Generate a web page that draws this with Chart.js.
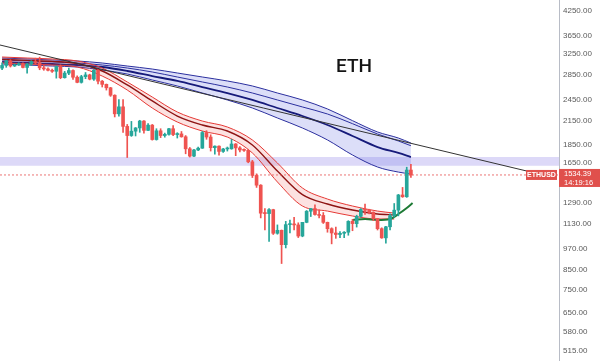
<!DOCTYPE html>
<html>
<head>
<meta charset="utf-8">
<script src="https://cdn.jsdelivr.net/npm/chart.js@4.4.0/dist/chart.umd.min.js"></script>
<style>
  html, body { margin: 0; padding: 0; background: #ffffff; }
  canvas { display: block; }
</style>
</head>
<body>
<canvas id="chart" width="600" height="361"></canvas>
<script>
// ETHUSD daily candles, 12 Apr 2022 .. 19 Jul 2022 (slot index 0..98)
const opens  = [2980,3030,3118,3020,3040,3062,2992,3057,3103,3077,2985,2965,2940,2922,3008,2808,2889,2936,2816,2728,
                2826,2857,2783,2940,2748,2694,2637,2518,2243,2343,2075,1960,2014,2055,2145,2024,2091,1912,2019,1960,
                1975,2045,1972,1980,1945,1805,1725,1792,1812,1997,1942,1818,1835,1776,1803,1805,1860,1815,1792,1788,
                1665,1530,1440,1210,1207,1237,1068,1088,995,1127,1128,1125,1050,1143,1225,1245,1200,1193,1143,1099,
                1070,1060,1068,1075,1150,1134,1187,1238,1232,1217,1170,1099,1038,1112,1192,1233,1355,1340,1582];
const highs  = [3080,3130,3140,3060,3080,3080,3070,3120,3170,3190,3030,2985,2960,3025,3040,2920,2980,2950,2840,2850,
                2900,2870,2955,2955,2760,2700,2645,2525,2450,2450,2100,2140,2060,2155,2150,2110,2100,2045,2045,1990,
                2050,2085,1995,2010,1960,1820,1800,1825,2010,2020,1970,1840,1840,1810,1825,1915,1865,1830,1805,1800,
                1680,1545,1445,1245,1245,1240,1125,1090,1150,1160,1180,1140,1140,1230,1245,1275,1235,1215,1145,1105,
                1110,1080,1080,1155,1165,1195,1245,1280,1240,1220,1170,1105,1115,1205,1285,1360,1420,1610,1640];
const lows   = [2950,2995,3000,3010,3030,2985,2890,3030,3055,2950,2940,2930,2900,2800,2790,2800,2860,2780,2720,2715,
                2790,2770,2760,2700,2650,2600,2500,2200,2210,2000,1710,1950,1955,2000,1990,2020,1905,1905,1935,1940,
                1965,1960,1930,1940,1750,1715,1720,1785,1810,1915,1780,1745,1735,1765,1780,1800,1730,1770,1775,1655,
                1510,1420,1175,1090,1015,1060,1062,885,975,1070,1090,1040,1045,1140,1185,1195,1175,1135,1075,1000,
                1035,1040,1040,1055,1085,1110,1180,1200,1205,1155,1090,1035,1005,1090,1180,1190,1335,1335,1510];
const closes = [3030,3118,3020,3040,3062,2992,3057,3103,3077,2985,2965,2940,2922,3008,2808,2889,2936,2816,2728,2826,
                2857,2783,2940,2748,2694,2637,2518,2243,2343,2075,1960,2014,2055,2145,2024,2091,1912,2019,1960,1975,
                2045,1972,1980,1945,1805,1725,1792,1812,1997,1942,1818,1835,1776,1803,1805,1860,1815,1792,1788,1665,
                1530,1440,1210,1207,1237,1068,1088,995,1127,1128,1125,1050,1143,1225,1245,1200,1193,1143,1099,1070,
                1060,1068,1075,1150,1134,1187,1238,1232,1217,1170,1099,1038,1112,1192,1233,1355,1340,1582,1534.39];

// Price-axis tick labels
const yTicks = [515,580,650,750,850,970,1130,1290,1650,1850,2150,2450,2850,3250,3650,4250];

// Red moving-average ribbon (upper edge, centre, lower edge)
const redIdx   = [0,6,12,18,24,30,36,42,48,54,60,66,72,78,84,90,94];
const redUpper = [3193,3173,3154,3115,2982,2734,2490,2269,2145,2067,1907,1653,1415,1321,1265,1226,1211];
const redMid   = [3146,3126,3107,3068,2927,2684,2430,2213,2093,2016,1849,1572,1358,1281,1234,1204,1197];
const redLower = [3076,3057,3038,3001,2837,2601,2326,2132,2016,1942,1759,1469,1265,1226,1189,1167,1167];

// Blue moving-average ribbon (four lines, top to bottom)
const blueIdx = [0,6,12,18,24,30,36,42,48,54,60,66,72,78,84,90,95,98];
const blue1 = [3173,3154,3134,3115,3076,3019,2963,2891,2820,2751,2667,2553,2445,2312,2150,2004,1930,1871];
const blue2 = [3134,3115,3096,3076,3038,2982,2909,2820,2734,2650,2553,2445,2341,2241,2110,1979,1895,1840];
const blue3 = [3096,3076,3057,3038,3001,2927,2837,2751,2650,2553,2445,2326,2213,2093,1955,1825,1759,1715];
const blue4 = [3057,3038,3019,3001,2945,2873,2768,2667,2553,2445,2326,2186,2054,1907,1737,1612,1562,1543];

// Short green average
const greenIdx = [84,87,90,93,95,97,98.4];
const green    = [1160,1167,1160,1167,1204,1250,1289];

// Descending trend line (two anchor points)
const trendIdx = [-0.5,125.8];
const trend    = [3440,1572];

// Resistance zone and last price
const zoneLow = 1625, zoneHigh = 1715;
const lastPrice = 1534.39;
const symbol = 'ETHUSD';
const countdown = '14:19:16';
const titleText = 'ETH';

const X_MIN = -0.5, X_MAX = 133.5;
const UP = '#26a69a', DOWN = '#ef5350';

const candleColors = opens.map((o, i) => closes[i] >= o ? UP : DOWN);
const pts = (xs, ys) => xs.map((x, i) => ({ x, y: ys[i] }));

const lineBase = {
  type: 'line', pointRadius: 0, pointHoverRadius: 0, pointBorderWidth: 0, fill: false,
  cubicInterpolationMode: 'monotone'
};

const datasets = [
  // 0,1 zone
  { ...lineBase, label: 'zoneLow', data: pts([X_MIN, X_MAX], [zoneLow, zoneLow]), borderWidth: 0, borderColor: 'rgba(0,0,0,0)', order: 20 },
  { ...lineBase, label: 'zoneHigh', data: pts([X_MIN, X_MAX], [zoneHigh, zoneHigh]), borderWidth: 0, borderColor: 'rgba(0,0,0,0)',
    fill: { target: 0 }, backgroundColor: 'rgba(160,150,235,0.36)', order: 19 },
  // 2..5 blue ribbon
  { ...lineBase, label: 'blue1', data: pts(blueIdx, blue1), borderColor: '#2b2f9e', borderWidth: 1, order: 12 },
  { ...lineBase, label: 'blue2', data: pts(blueIdx, blue2), borderColor: '#2b2f9e', borderWidth: 1, order: 11 },
  { ...lineBase, label: 'blue3', data: pts(blueIdx, blue3), borderColor: '#161a7a', borderWidth: 1.8, order: 10 },
  { ...lineBase, label: 'blue4', data: pts(blueIdx, blue4), borderColor: '#2b2f9e', borderWidth: 1,
    fill: { target: 2 }, backgroundColor: 'rgba(95,105,225,0.22)', order: 13 },
  // 6..8 red ribbon
  { ...lineBase, label: 'redUpper', data: pts(redIdx, redUpper), borderColor: '#e53935', borderWidth: 1, order: 8 },
  { ...lineBase, label: 'redMid', data: pts(redIdx, redMid), borderColor: '#8e1414', borderWidth: 1.4, order: 7 },
  { ...lineBase, label: 'redLower', data: pts(redIdx, redLower), borderColor: '#e53935', borderWidth: 1,
    fill: { target: 6 }, backgroundColor: 'rgba(239,83,80,0.17)', order: 9 },
  // 9 green average
  { ...lineBase, label: 'green', data: pts(greenIdx, green), borderColor: '#1d7a35', borderWidth: 2, order: 6 },
  // 10 trend line
  { ...lineBase, label: 'trend', data: pts(trendIdx, trend), borderColor: '#333333', borderWidth: 1,
    cubicInterpolationMode: 'default', tension: 0, order: 5 },
  // 11 last price line
  { ...lineBase, label: 'last', data: pts([X_MIN, X_MAX], [lastPrice, lastPrice]), borderColor: 'rgba(230,80,80,0.8)',
    borderWidth: 1, borderDash: [2, 2], order: 4 },
  // 12 wicks, 13 bodies
  { type: 'bar', label: 'wicks', data: lows.map((l, i) => ({ x: i, y: [l, highs[i]] })),
    backgroundColor: candleColors, barThickness: 1, grouped: false, order: 2 },
  { type: 'bar', label: 'bodies', data: opens.map((o, i) => ({ x: i, y: [o, closes[i]] })),
    backgroundColor: candleColors, barThickness: 3, minBarLength: 1, grouped: false, order: 1 }
];

const overlay = {
  id: 'overlay',
  afterDraw(chart) {
    const { ctx, chartArea, scales: { y } } = chart;
    ctx.save();
    // title
    ctx.font = '500 19px Roboto';
    ctx.fillStyle = '#141414';
    ctx.textAlign = 'center';
    ctx.textBaseline = 'alphabetic';
    ctx.fillText(titleText, chartArea.left + 354, 72);

    const py = y.getPixelForValue(lastPrice);
    // symbol tag
    ctx.fillStyle = '#e0504c';
    ctx.fillRect(chartArea.right - 33, py - 5, 31, 10);
    ctx.fillStyle = '#ffffff';
    ctx.font = 'bold 7px "Liberation Sans"';
    ctx.textAlign = 'center';
    ctx.textBaseline = 'middle';
    ctx.fillText(symbol, chartArea.right - 17.5, py + 0.5);
    // price tag on the axis
    ctx.fillStyle = '#e0504c';
    ctx.fillRect(chartArea.right, py - 6, chart.width - chartArea.right, 18);
    ctx.fillStyle = '#ffffff';
    ctx.font = '7.5px "Liberation Sans"';
    ctx.textAlign = 'left';
    ctx.fillText(lastPrice.toFixed(2), chartArea.right + 5, py - 1);
    ctx.fillText(countdown, chartArea.right + 5, py + 7.5);
    ctx.restore();
  }
};

new Chart(document.getElementById('chart'), {
  type: 'bar',
  data: { datasets },
  plugins: [overlay],
  options: {
    responsive: false,
    animation: false,
    layout: { padding: 0, autoPadding: false },
    plugins: { legend: { display: false }, tooltip: { enabled: false }, title: { display: false } },
    scales: {
      x: {
        type: 'linear', min: X_MIN, max: X_MAX, offset: false, display: false
      },
      y: {
        type: 'logarithmic', position: 'right', min: 483, max: 4550,
        grid: { display: false, drawTicks: false },
        border: { display: true, color: '#b8bcc6', width: 1 },
        afterBuildTicks: (scale) => { scale.ticks = yTicks.map(v => ({ value: v })); },
        afterFit: (scale) => { scale.width = 41; scale.paddingTop = 0; scale.paddingBottom = 0; },
        ticks: {
          autoSkip: false, padding: 4, color: '#5a5a5a',
          font: { family: '"Liberation Sans"', size: 8 },
          callback: (v) => Number(v).toFixed(2)
        }
      }
    }
  }
});
</script>
</body>
</html>
